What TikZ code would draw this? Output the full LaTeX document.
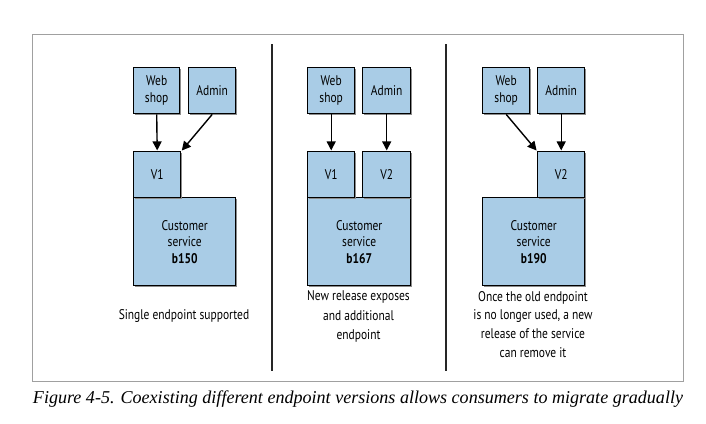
\documentclass[tikz,border=0pt]{standalone}
\usepackage{fontspec}
\usetikzlibrary{arrows.meta,shadows}
\newfontfamily\boxfont{PT Sans}[FakeStretch=0.82]
\newfontfamily\capfont{Liberation Serif}
\definecolor{boxblue}{HTML}{A9CCE6}
\definecolor{framegray}{HTML}{A0A0A0}
\tikzset{
  svc/.style={draw=black, line width=1.4pt, fill=boxblue, anchor=north west,
    inner sep=0pt, align=center, font=\boxfont\fontsize{14}{16.5}\selectfont,
    drop shadow={shadow xshift=1.6pt, shadow yshift=-1.6pt, fill=black!45, opacity=1}},
  lbl/.style={align=center, font=\boxfont\fontsize{14}{19.5}\selectfont, anchor=north},
  arr/.style={-{Triangle[length=9pt,width=9pt]}, line width=1.4pt, shorten >=0.6pt},
  divider/.style={line width=1.8pt, draw=black!85}
}
\begin{document}
\begin{tikzpicture}[x=1pt,y=-1pt]
\useasboundingbox (0,0) rectangle (706,423);
% frame
\draw[framegray, line width=1pt] (32,34) rectangle (683,381);
\draw[divider] (272,44) -- (272,371);
\draw[divider] (446,44) -- (446,371);

% panel 1
\node[svc, minimum width=102pt, minimum height=88pt] (cs1) at (133,197) {Customer\\service\\\textbf{b150}};
\node[svc, minimum width=47pt, minimum height=46pt] (v1a) at (133,151) {V1};
\node[svc, minimum width=46pt, minimum height=46pt] (ws1) at (133,67) {Web\\shop};
\node[svc, minimum width=47pt, minimum height=46pt] (ad1) at (188,67) {Admin};
\draw[arr] (ws1.south) -- (v1a.north);
\draw[arr] (ad1.south) -- (v1a.north east);
\node[lbl] (t1) at (184,305.5) {Single endpoint supported};

% panel 2
\node[svc, minimum width=103pt, minimum height=88pt] (cs2) at (307,197) {Customer\\service\\\textbf{b167}};
\node[svc, minimum width=47pt, minimum height=46pt] (v1b) at (307,151) {V1};
\node[svc, minimum width=48pt, minimum height=46pt] (v2b) at (362,151) {V2};
\node[svc, minimum width=47pt, minimum height=46pt] (ws2) at (307,67) {Web\\shop};
\node[svc, minimum width=48pt, minimum height=46pt] (ad2) at (362,67) {Admin};
\draw[arr] (ws2.south) -- (v1b.north);
\draw[arr] (ad2.south) -- (v2b.north);
\node[lbl] (t2) at (358.5,287.5) {New release exposes\\and additional\\endpoint};

% panel 3
\node[svc, minimum width=102pt, minimum height=88pt] (cs3) at (482,197) {Customer\\service\\\textbf{b190}};
\node[svc, minimum width=47pt, minimum height=46pt] (v2c) at (537,151) {V2};
\node[svc, minimum width=47pt, minimum height=46pt] (ws3) at (482,67) {Web\\shop};
\node[svc, minimum width=47pt, minimum height=46pt] (ad3) at (537,67) {Admin};
\draw[arr] (ws3.south) -- (v2c.north west);
\draw[arr] (ad3.south) -- (v2c.north);
\node[lbl, font=\boxfont\fontsize{14}{18.7}\selectfont] (t3) at (533,287.5) {Once the old endpoint\\is no longer used, a new\\release of the service\\can remove it};

% caption
\node[anchor=center, inner sep=0pt] (cap) at (358,399) {\resizebox{650pt}{!}{\capfont\itshape Figure 4-5. Coexisting different endpoint versions allows consumers to migrate gradually}};
\end{tikzpicture}
\end{document}
